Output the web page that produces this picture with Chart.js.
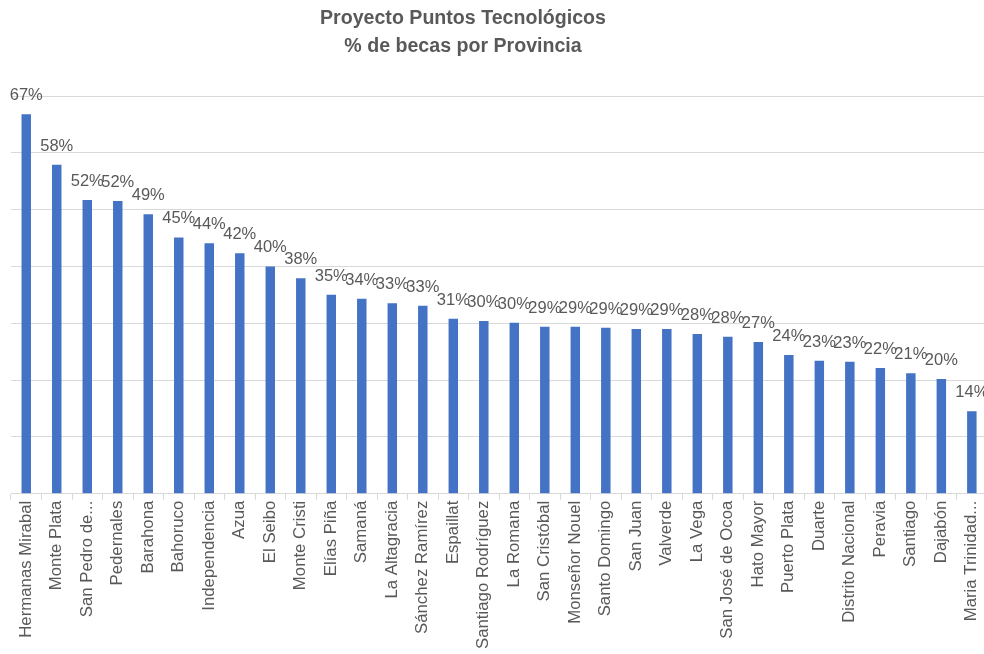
<!DOCTYPE html>
<html>
<head>
<meta charset="utf-8">
<script src="https://cdn.jsdelivr.net/npm/chart.js@4.4.0/dist/chart.umd.min.js"></script>
<style>
  html, body { margin: 0; background: #fff; overflow: hidden; }
  #wrap { position: relative; width: 984px; height: 654px; overflow: hidden; }
  #title {
    position: absolute; left: 263px; top: 3px; width: 400px;
    text-align: center; font: bold 19.6px "Liberation Sans", Arial, sans-serif;
    color: #595959; line-height: 28px;
  }
</style>
</head>
<body>
<div id="wrap">
  <div id="title">Proyecto Puntos Tecnológicos<br>% de becas por Provincia</div>
  <canvas id="chart" width="993" height="654"></canvas>
</div>
<script>
const provincias = ['Hermanas Mirabal', 'Monte Plata', 'San Pedro de...', 'Pedernales', 'Barahona', 'Bahoruco',
  'Independencia', 'Azua', 'El Seibo', 'Monte Cristi', 'Elías Piña', 'Samaná', 'La Altagracia', 'Sánchez Ramírez',
  'Espaillat', 'Santiago Rodríguez', 'La Romana', 'San Cristóbal', 'Monseñor Nouel', 'Santo Domingo', 'San Juan',
  'Valverde', 'La Vega', 'San José de Ocoa', 'Hato Mayor', 'Puerto Plata', 'Duarte', 'Distrito Nacional',
  'Peravia', 'Santiago', 'Dajabón', 'Maria Trinidad...'];
const becas = [66.8, 57.9, 51.7, 51.5, 49.2, 45.1, 44.1, 42.3, 40.0, 37.9, 35.0, 34.3, 33.5, 33.1,
  30.8, 30.4, 30.1, 29.4, 29.4, 29.2, 29.0, 29.0, 28.1, 27.6, 26.7, 24.4, 23.4, 23.2, 22.1, 21.2, 20.2, 14.5];
const etiquetas = ['67%', '58%', '52%', '52%', '49%', '45%', '44%', '42%', '40%', '38%', '35%', '34%', '33%', '33%',
  '31%', '30%', '30%', '29%', '29%', '29%', '29%', '29%', '28%', '28%', '27%', '24%', '23%', '23%', '22%', '21%', '20%', '14%'];

const gray = '#595959';
const font = '"Liberation Sans", Arial, sans-serif';

// draws the % labels above each bar
const barLabels = {
  id: 'barLabels',
  afterDatasetsDraw(chart) {
    const ctx = chart.ctx;
    const meta = chart.getDatasetMeta(0);
    ctx.save();
    ctx.fillStyle = gray;
    ctx.font = '16.5px ' + font;
    ctx.textAlign = 'center';
    ctx.textBaseline = 'alphabetic';
    meta.data.forEach((bar, i) => {
      ctx.fillText(etiquetas[i], bar.x, bar.y - 14);
    });
    ctx.restore();
  }
};

new Chart(document.getElementById('chart'), {
  type: 'bar',
  data: {
    labels: provincias,
    datasets: [{
      data: becas,
      backgroundColor: '#4472C4',
      barPercentage: 0.31,
      categoryPercentage: 1
    }]
  },
  options: {
    responsive: false,
    animation: false,
    layout: { padding: { left: 11, right: 0, top: 96, bottom: 4 } },
    plugins: { legend: { display: false }, tooltip: { enabled: false } },
    scales: {
      x: {
        grid: { drawOnChartArea: false, color: '#d9d9d9', tickLength: 6, offset: true },
        border: { color: '#d9d9d9' },
        ticks: {
          color: gray, font: { family: font, size: 16.8 },
          minRotation: 90, maxRotation: 90, autoSkip: false, padding: 1
        }
      },
      y: {
        min: 0, max: 70,
        ticks: { stepSize: 10, display: false },
        grid: { color: '#d9d9d9', drawTicks: false },
        border: { display: false }
      }
    }
  },
  plugins: [barLabels]
});
</script>
</body>
</html>
